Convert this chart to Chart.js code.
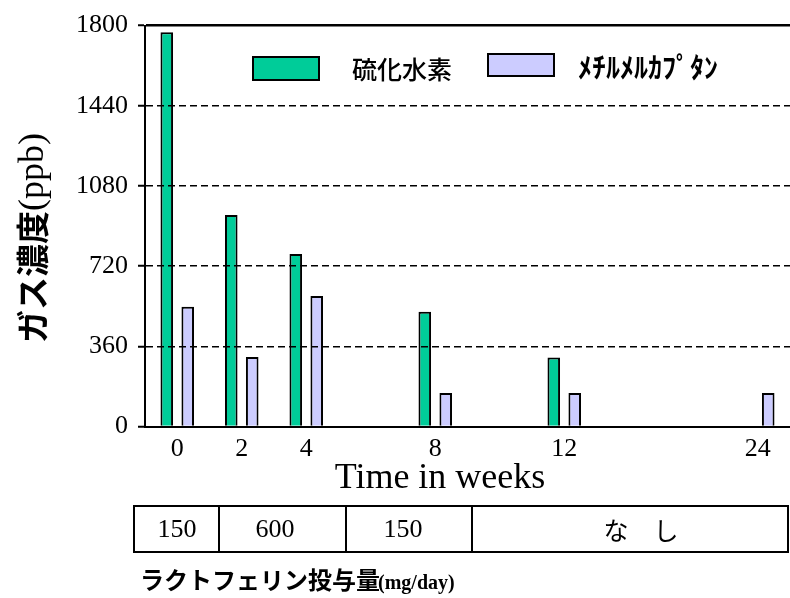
<!DOCTYPE html>
<html lang="ja">
<head>
<meta charset="utf-8">
<title>ガス濃度</title>
<script src="https://cdn.jsdelivr.net/npm/chart.js@4/dist/chart.umd.min.js"></script>
<style>
  html, body { margin: 0; padding: 0; background: #fff; }
  #wrap { position: relative; width: 790px; height: 598px; }
  canvas { display: block; }
</style>
</head>
<body>
<div id="wrap"><canvas id="chart" width="790" height="598"></canvas></div>
<script>
// Week categories (blank slots keep the time spacing between visits)
const weekLabels = ['0', '2', '4', '', '8', '', '12', '', '', '24'];
// Gas concentration (ppb)
const h2sValues = [1770, 950, 775, null, 515, null, 310, null, null, null];
const methylMercaptanValues = [538, 312, 586, null, 150, null, 150, null, null, 150];
// Lactoferrin dose per period (mg/day)
const doseLabels = ['150', '600', '150', 'な　し'];
const seriesNames = ['硫化水素', 'ﾒﾁﾙﾒﾙｶﾌﾟﾀﾝ'];

const SERIF = '"Liberation Serif", "Times New Roman", serif';
const GOTHIC = '"Noto Sans CJK JP", sans-serif';

// Dose table geometry: cell edges and text centres
const doseCellEdges = [134, 219, 346, 472, 788];
const doseTextCenters = [177, 275, 403, 641];

const extrasPlugin = {
  id: 'extras',
  afterDraw(chart) {
    const ctx = chart.ctx;

    // Y axis title: mixed gothic / serif, rotated
    ctx.save();
    ctx.translate(32, 238);
    ctx.rotate(-Math.PI / 2);
    ctx.textBaseline = 'middle';
    ctx.fillStyle = '#000';
    const jp = 'ガス濃度', en = '(ppb)';
    const jpFont = 'bold 33px ' + GOTHIC, enFont = '36px ' + SERIF;
    ctx.font = jpFont;
    const wJp = ctx.measureText(jp).width;
    ctx.font = enFont;
    const wEn = ctx.measureText(en).width;
    const x0 = -(wJp + wEn) / 2;
    ctx.textAlign = 'left';
    ctx.font = jpFont;
    ctx.fillText(jp, x0, 0);
    ctx.font = enFont;
    ctx.fillText(en, x0 + wJp, 2);
    ctx.restore();

    // X axis title
    ctx.save();
    ctx.fillStyle = '#000';
    ctx.font = '36px ' + SERIF;
    ctx.textAlign = 'center';
    ctx.textBaseline = 'middle';
    ctx.fillText('Time in weeks', 440, 479);
    ctx.restore();

    // Legend inside the plot area
    ctx.save();
    const ds = chart.data.datasets;
    const legendItems = [
      { box: [253, 57, 66, 23], textX: 352, textY: 69, font: '500 25px ' + GOTHIC },
      { box: [488, 54, 66, 22], textX: 578, textY: 67, font: 'bold 28px ' + GOTHIC }
    ];
    legendItems.forEach((it, i) => {
      ctx.fillStyle = ds[i].backgroundColor;
      ctx.fillRect(it.box[0], it.box[1], it.box[2], it.box[3]);
      ctx.lineWidth = 2;
      ctx.strokeStyle = '#000';
      ctx.strokeRect(it.box[0], it.box[1], it.box[2], it.box[3]);
      ctx.fillStyle = '#000';
      ctx.font = it.font;
      ctx.textAlign = 'left';
      ctx.textBaseline = 'middle';
      ctx.fillText(ds[i].label, it.textX, it.textY);
    });
    ctx.restore();

    // Dose table
    ctx.save();
    const top = 506, bottom = 552;
    ctx.strokeStyle = '#000';
    ctx.lineWidth = 2;
    ctx.strokeRect(doseCellEdges[0], top, doseCellEdges[doseCellEdges.length - 1] - doseCellEdges[0], bottom - top);
    for (let i = 1; i < doseCellEdges.length - 1; i++) {
      ctx.beginPath();
      ctx.moveTo(doseCellEdges[i], top);
      ctx.lineTo(doseCellEdges[i], bottom);
      ctx.stroke();
    }
    ctx.fillStyle = '#000';
    ctx.textAlign = 'center';
    ctx.textBaseline = 'middle';
    doseLabels.forEach((t, i) => {
      const isNum = /^[0-9]+$/.test(t);
      ctx.font = isNum ? '26px ' + SERIF : '25px ' + GOTHIC;
      ctx.fillText(t, doseTextCenters[i], 530);
    });

    // Table caption
    ctx.textAlign = 'left';
    ctx.textBaseline = 'alphabetic';
    const capJp = 'ラクトフェリン投与量', capEn = '(mg/day)';
    ctx.font = 'bold 24px ' + GOTHIC;
    const wc = ctx.measureText(capJp).width;
    ctx.fillText(capJp, 140, 589);
    ctx.font = 'bold 20px ' + SERIF;
    ctx.fillText(capEn, 138 + wc, 589);
    ctx.restore();
  }
};

new Chart(document.getElementById('chart'), {
  type: 'bar',
  data: {
    labels: weekLabels,
    datasets: [
      {
        label: seriesNames[0],
        data: h2sValues,
        backgroundColor: '#00CC99',
        borderColor: '#000',
        borderWidth: 2
      },
      {
        label: seriesNames[1],
        data: methylMercaptanValues,
        backgroundColor: '#CCCCFF',
        borderColor: '#000',
        borderWidth: 2
      }
    ]
  },
  options: {
    responsive: false,
    animation: false,
    layout: { padding: { top: 23, right: 0, bottom: 104, left: 0 } },
    datasets: { bar: { categoryPercentage: 0.65, barPercentage: 0.6 } },
    plugins: {
      legend: { display: false },
      tooltip: { enabled: false }
    },
    scales: {
      x: {
        type: 'category',
        offset: true,
        grid: { display: false, drawTicks: false },
        border: { display: true, color: '#000', width: 2 },
        ticks: {
          autoSkip: false,
          maxRotation: 0,
          minRotation: 0,
          padding: 7,
          color: '#000',
          font: { family: SERIF, size: 26 }
        },
        afterFit(scale) { scale.height = 67.5; }
      },
      y: {
        min: 0,
        max: 1800,
        ticks: {
          stepSize: 360,
          padding: 10,
          color: '#000',
          font: { family: SERIF, size: 26 },
          callback: (v) => String(v)
        },
        grid: {
          z: 1,
          color: (c) => (c.tick && c.tick.value === 0 ? 'rgba(0,0,0,0)' : '#000'),
          lineWidth: (c) => (c.tick && c.tick.value === 1800 ? 2.5 : 1.5),
          drawTicks: true,
          tickLength: 7,
          tickColor: '#000',
          tickWidth: 2
        },
        border: {
          display: true,
          z: 1,
          color: '#000',
          width: 2,
          dash: (c) => (c.tick && c.tick.value === 1800 ? [] : [7, 4])
        },
        afterFit(scale) { scale.width = 145; }
      }
    }
  },
  plugins: [extrasPlugin]
});
</script>
</body>
</html>
